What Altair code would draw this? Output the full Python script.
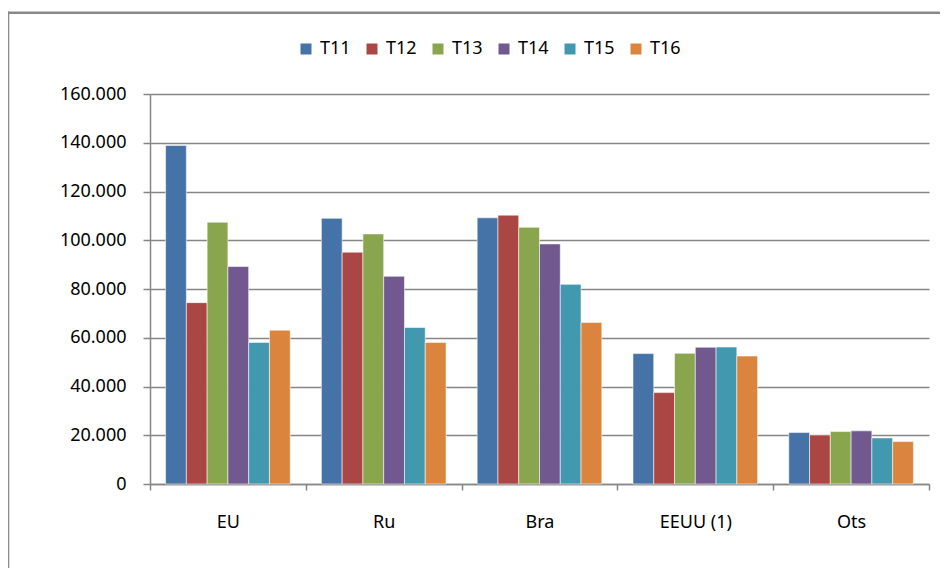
import altair as alt
import pandas as pd

categories = ["EU", "Ru", "Bra", "EEUU (1)", "Ots"]
series = ["T11", "T12", "T13", "T14", "T15", "T16"]
colors = ["#4572A7", "#AA4643", "#89A54E", "#71588F", "#4198AF", "#DB843D"]
values = {
    "T11": [138900, 109000, 109200, 53500, 21100],
    "T12": [74400, 95100, 110300, 37500, 20100],
    "T13": [107400, 102600, 105300, 53600, 21500],
    "T14": [89200, 85200, 98500, 56100, 21800],
    "T15": [58100, 64200, 81900, 56200, 18900],
    "T16": [63100, 58100, 66300, 52500, 17400],
}
y_ticks = [0, 20000, 40000, 60000, 80000, 100000, 120000, 140000, 160000]

rows = []
for s in series:
    for c, v in zip(categories, values[s]):
        rows.append({"cat": c, "serie": s, "valor": v})
df = pd.DataFrame(rows)

FONT = "Noto Sans"
W, H = 779, 390

bars = alt.Chart(df).mark_bar(stroke="#ffffff", strokeOpacity=0.55, strokeWidth=1).encode(
    x=alt.X("cat:N", sort=categories, title=None,
            scale=alt.Scale(paddingInner=0, paddingOuter=0),
            axis=alt.Axis(tickBand="extent", labelAngle=0, labelFontSize=18, labelFont=FONT,
                          labelColor="#000000", tickSize=6, labelPadding=23,
                          domainColor="#868686", tickColor="#868686",
                          domainWidth=1.5, tickWidth=1.5, grid=False)),
    xOffset=alt.XOffset("serie:N", sort=series, scale=alt.Scale(paddingInner=0, paddingOuter=0.75)),
    y=alt.Y("valor:Q", title=None,
            scale=alt.Scale(domain=[0, 160000], nice=False),
            axis=alt.Axis(values=y_ticks, labelExpr="replace(format(datum.value, ','), ',', '.')",
                          labelFontSize=18, labelFont=FONT, labelColor="#000000",
                          tickSize=7, labelPadding=17, grid=True,
                          gridColor="#868686", gridWidth=1.5,
                          domainColor="#868686", tickColor="#868686",
                          domainWidth=1.5, tickWidth=1.5)),
    color=alt.Color("serie:N", sort=series,
                    scale=alt.Scale(domain=series, range=colors),
                    legend=alt.Legend(title=None, orient="none", direction="horizontal",
                                      legendX=147, legendY=-54, symbolType="square",
                                      symbolSize=121, symbolStrokeWidth=0,
                                      labelFontSize=18, labelFont=FONT, labelColor="#000000",
                                      labelOffset=5, columnPadding=12, padding=0)),
)

frame = pd.DataFrame({"k": [0]})
top_line = alt.Chart(frame).mark_rule(color="#898989", strokeWidth=2.5).encode(
    x=alt.value(-142), x2=alt.value(800), y=alt.value(-81.3))
left_line = alt.Chart(frame).mark_rule(color="#898989", strokeWidth=2.5).encode(
    x=alt.value(-142), y=alt.value(-82.5), y2=alt.value(480))

chart = alt.layer(bars, top_line, left_line).properties(
    width=W, height=H,
    autosize=alt.AutoSizeParams(type="none"),
    padding={"left": 142, "top": 86, "right": 11, "bottom": 84},
).configure_view(stroke=None)

chart.save("out.html", embed_options={"renderer": "svg", "actions": False})
